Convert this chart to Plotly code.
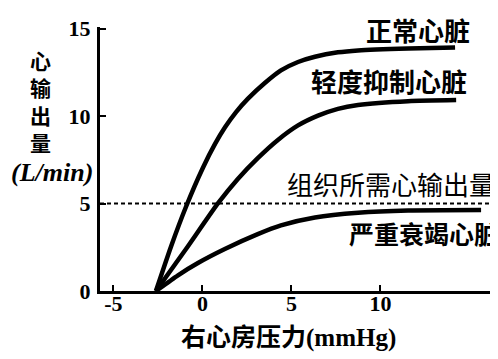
import plotly.graph_objects as go

# ---- data ----
normal_x = [-2.61, -1.77, -0.92, 0.03, 0.71, 1.27, 1.89, 2.56, 3.52, 4.41, 5.37, 6.32, 7.61, 8.74, 11.55, 14.19]
normal_y = [0.0, 2.52, 4.82, 7.05, 8.41, 9.36, 10.23, 11.0, 11.91, 12.62, 13.1, 13.4, 13.65, 13.76, 13.87, 13.93]

mild_x = [-2.61, -0.92, 0.87, 1.99, 3.11, 4.24, 5.37, 6.49, 7.61, 8.74, 11.55, 14.25]
mild_y = [0.0, 2.40, 5.01, 6.41, 7.60, 8.64, 9.47, 10.03, 10.42, 10.64, 10.86, 10.92]

severe_x = [-2.61, -1.37, -0.25, 1.26, 3.11, 4.41, 6.32, 8.74, 11.55, 15.65]
severe_y = [0.0, 0.90, 1.60, 2.40, 3.25, 3.75, 4.20, 4.47, 4.60, 4.63]

required_x = [-5.75, 16.5]
required_y = [5, 5]

x_ticks = [-5, 0, 5, 10]
y_ticks = [0, 5, 10, 15]

labels = ["正常心脏", "轻度抑制心脏", "组织所需心输出量", "严重衰竭心脏"]
x_title = "右心房压力"
x_unit = "(mmHg)"
y_title_chars = ["心", "输", "出", "量"]
y_unit = "(L/min)"

# ---- layout geometry ----
W, H = 498, 359
L, R, T, B = 92, 8, 12, 76
PW, PH = W - L - R, H - T - B


def px(xp):
    return (xp - L) / PW


def py(yp):
    return (H - B - yp) / PH


CJK = "Noto Sans CJK SC"
SERIF = "Liberation Serif"

fig = go.Figure()
line_style = dict(color="black", width=4.5, shape="spline", smoothing=0.6)
for xs, ys in [(normal_x, normal_y), (mild_x, mild_y), (severe_x, severe_y)]:
    fig.add_trace(go.Scatter(x=xs, y=ys, mode="lines", line=line_style,
                             showlegend=False, hoverinfo="skip"))
fig.add_trace(go.Scatter(x=required_x, y=required_y, mode="lines",
                         line=dict(color="black", width=2, dash="4px,3px"),
                         showlegend=False, hoverinfo="skip"))

annots = []
# curve labels: (x pixel, y pixel, anchor, weight, size)
label_pos = [(410, 15, "center", "bold", 26), (381, 67, "center", "bold", 26),
             (383, 173, "center", "normal", 26), (493, 223, "right", "bold", 25)]
for text, (xp, yp, anc, wt, sz) in zip(labels, label_pos):
    annots.append(dict(text=text, x=px(xp), y=py(yp), xref="paper", yref="paper",
                       showarrow=False, xanchor=anc, yanchor="middle",
                       font=dict(family=CJK, size=sz, color="black", weight=wt)))
# y title (vertical stacked chars)
annots.append(dict(text="<br>".join(y_title_chars), x=px(32), y=py(88), xref="paper", yref="paper",
                   showarrow=False, xanchor="center", yanchor="middle",
                   font=dict(family=CJK, size=21, color="black", weight="bold")))
annots.append(dict(text=y_unit, x=px(44), y=py(161), xref="paper", yref="paper",
                   showarrow=False, xanchor="center", yanchor="middle",
                   font=dict(family=SERIF, size=26, color="black", weight="bold", style="italic")))
# x title
annots.append(dict(text=x_title + "<span style='font-family:Liberation Serif'>" + x_unit + "</span>",
                   x=px(280), y=py(328), xref="paper", yref="paper",
                   showarrow=False, xanchor="center", yanchor="middle",
                   font=dict(family=CJK, size=25, color="black", weight="bold")))

axis_common = dict(showline=True, linecolor="black", linewidth=3, ticks="inside",
                   ticklen=6, tickwidth=2, tickcolor="black", showgrid=False, zeroline=False,
                   tickfont=dict(family=SERIF, size=22, color="black", weight="bold"))

fig.update_layout(
    width=W, height=H,
    margin=dict(l=L, r=R, t=T, b=B),
    paper_bgcolor="white", plot_bgcolor="white",
    xaxis=dict(range=[-5.75, 16.6], tickvals=x_ticks, ticktext=[str(v) for v in x_ticks],
               ticklabelstandoff=-9, **axis_common),
    yaxis=dict(range=[0, 15.1], tickvals=y_ticks, ticktext=[str(v) for v in y_ticks],
               ticklabelstandoff=2, **axis_common),
    annotations=annots,
    showlegend=False,
)

fig.write_html("out.html")
